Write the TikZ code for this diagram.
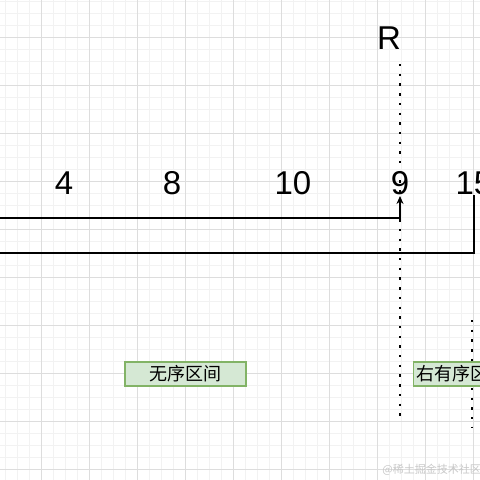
\documentclass[tikz,border=0pt]{standalone}
\usepackage{fontspec}
\setmainfont{Liberation Sans}
\newfontfamily\cjk{Noto Sans CJK SC}
\usetikzlibrary{arrows.meta}
\definecolor{gridminor}{HTML}{F2F2F2}
\definecolor{gridmajor}{HTML}{DDDDDD}
\definecolor{boxfill}{HTML}{D5E8D4}
\definecolor{boxdraw}{HTML}{82B366}
\definecolor{wmark}{HTML}{C8C8C8}
\tikzset{
  num/.style={font=\fontsize{33}{36}\selectfont, anchor=base, inner sep=0pt},
  region/.style={draw=boxdraw, fill=boxfill, line width=1.2pt, minimum height=24pt, inner sep=0pt, font=\cjk\fontsize{18}{20}\selectfont},
  conn/.style={line width=1.2pt, draw=black},
  dotline/.style={line width=2.4pt, dash pattern=on 2.4pt off 7.3pt, draw=black},
}
\begin{document}
\begin{tikzpicture}[x=1pt,y=-1pt]
\useasboundingbox (0,0) rectangle (480,480);
\fill[white] (0,0) rectangle (480,480);
% grid
\foreach \i in {0,...,39} {
  \draw[gridminor, line width=0.8pt] ({5+12*\i},0) -- ({5+12*\i},480);
  \draw[gridminor, line width=0.8pt] (0,{1+12*\i}) -- (480,{1+12*\i});
}
\foreach \i in {0,...,9} {
  \draw[gridmajor, line width=0.8pt] ({41+48*\i},0) -- ({41+48*\i},480);
  \draw[gridmajor, line width=0.8pt] (0,{37+48*\i}) -- (480,{37+48*\i});
}
% dotted markers
\coordinate (d1a) at (400,64);
\coordinate (d1b) at (400,422);
\coordinate (d2a) at (472,320);
\coordinate (d2b) at (472,428);
\draw[dotline] (d1a) -- (d1b);
\draw[dotline] (d2a) -- (d2b);
% labels
\node[num] (R) at (389,49) {R};
\node[num] (n4) at (64,194) {4};
\node[num] (n8) at (172,194) {8};
\node[num] (n10) at (293,194) {10};
\node[num] (n9) at (400,194) {9};
\node[num] (n15) at (474,194) {15};
% connectors
\coordinate (s1) at (0,218);
\coordinate (s2) at (0,253);
\draw[conn, -{Stealth[length=8pt,width=7pt]}] (s1) -| ([yshift=-2pt]n9.base);
\draw[conn] (s2) -| ([yshift=-1pt]n15.base);
% region boxes
\node[region, minimum width=121pt] (unsorted) at (185.5,374) {无序区间};
\node[region, minimum width=96pt, anchor=west] (sorted) at (413,374) {右有序区间};
% watermark
\node[font=\cjk\fontsize{11}{12}\selectfont, text=wmark, anchor=east, inner sep=0pt] (wm) at (481,470) {@稀土掘金技术社区};
\end{tikzpicture}
\end{document}
